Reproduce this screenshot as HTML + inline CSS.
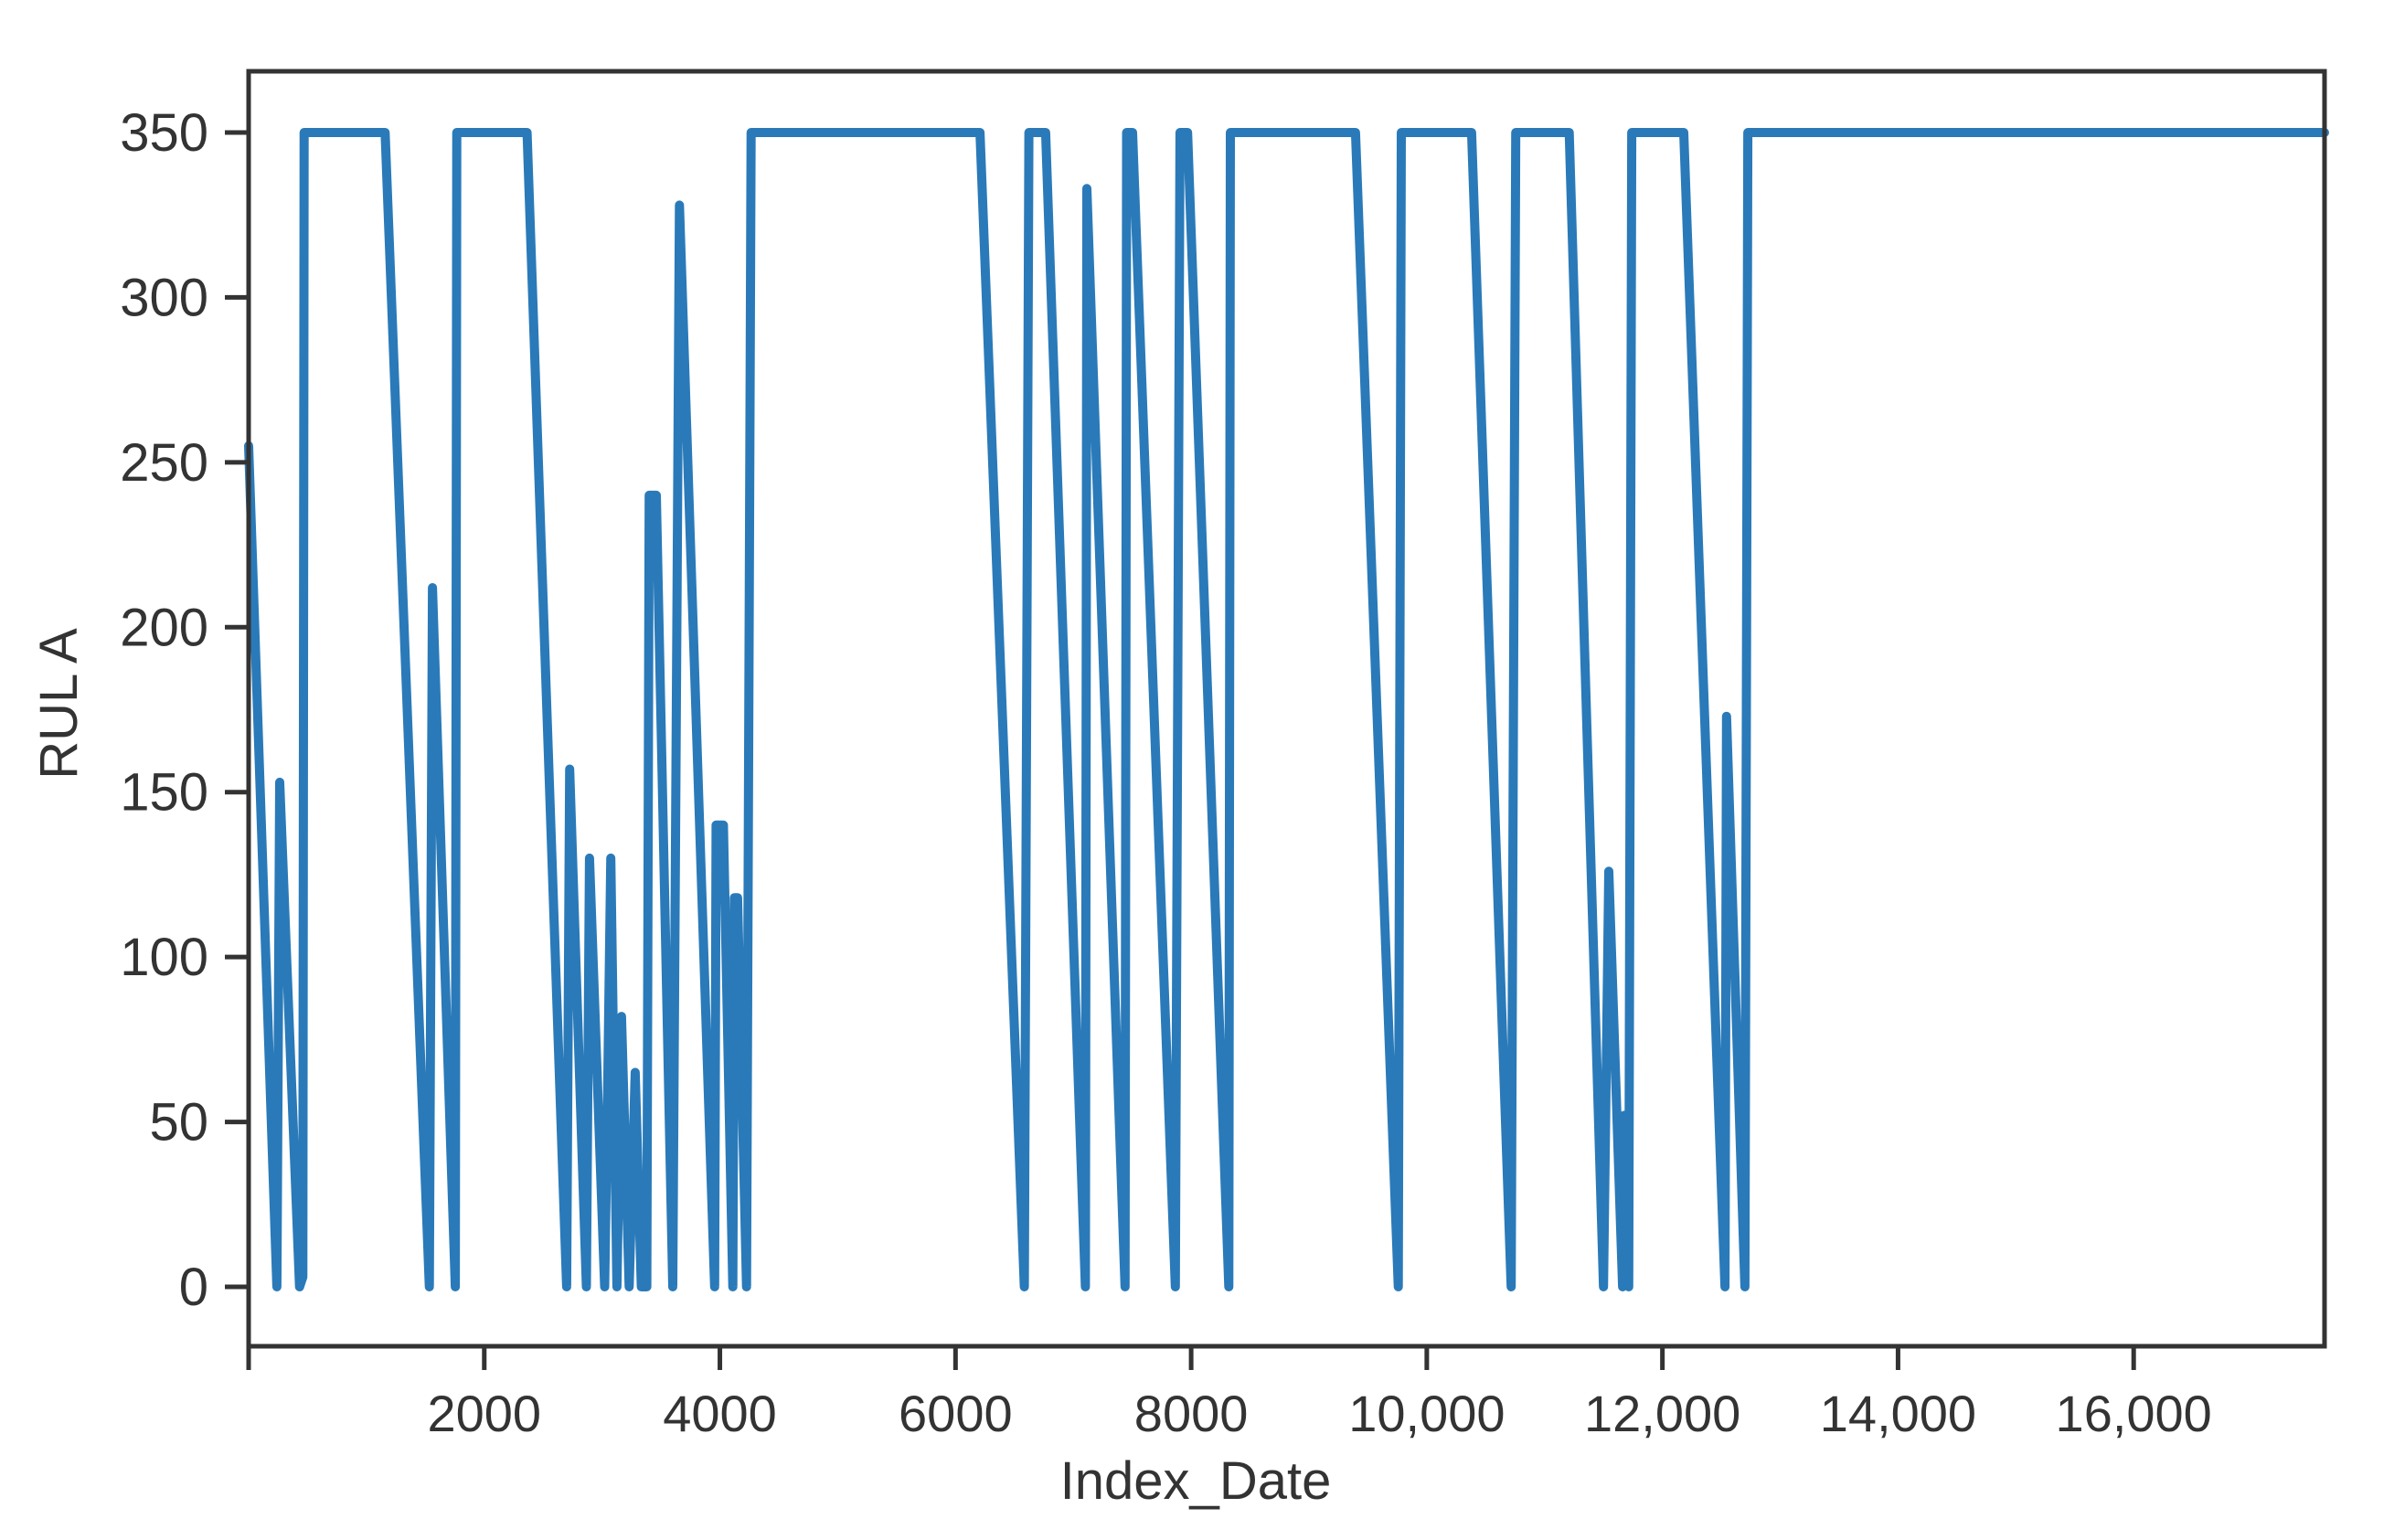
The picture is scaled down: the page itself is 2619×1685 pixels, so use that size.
<!DOCTYPE html>
<html><head><meta charset="utf-8"><style>
html,body{margin:0;padding:0;background:#fff;}
svg{display:block;}
text{font-family:"Liberation Sans",sans-serif;fill:#333;}
</style></head><body>
<svg id="chart" width="2619" height="1685">
<g id="plot"></g>
<g id="axes"></g>
</svg>
<script>
const xTicks = [2000, 4000, 6000, 8000, 10000, 12000, 14000, 16000];
const xTickLabels = ["2000", "4000", "6000", "8000", "10,000", "12,000", "14,000", "16,000"];
const yTicks = [0, 50, 100, 150, 200, 250, 300, 350];
const seriesX = [0,240,264,432,460,471,1158,1534,1560,1754,1767,2363,2699,2725,2867,2893,3022,3048,3074,3126,3165,3230,3281,3333,3380,3400,3460,3600,3657,3955,3968,4030,4110,4123,4150,4226,4265,6208,6584,6623,6765,7102,7115,7439,7452,7503,7866,7905,7970,8320,8333,9395,9758,9784,10380,10716,10755,11209,11500,11545,11662,11675,11714,11740,12181,12531,12544,12700,12725,17620];
const seriesY = [255,0,153,0,3,350,350,0,212,0,350,350,0,157,0,130,0,60,130,0,82,0,65,0,0,240,240,0,328,0,140,140,0,118,118,0,350,350,0,350,350,0,333,0,350,350,0,350,350,0,350,350,0,350,350,0,350,350,0,126,0,52,0,350,350,0,173,0,350,350];

const L=272, R=2543, T=78, B=1473;
const X0=0, X1=17620;
const y0px=1408, y350px=145;
const sx = v => L + (v - X0) / (X1 - X0) * (R - L);
const sy = v => y0px + (y350px - y0px) * v / 350;
const NS='http://www.w3.org/2000/svg';
const plot=document.getElementById('plot');
const axes=document.getElementById('axes');

const path=document.createElementNS(NS,'path');
let d='';
for(let i=0;i<seriesX.length;i++){d+=(i?'L':'M')+sx(seriesX[i]).toFixed(1)+' '+sy(seriesY[i]).toFixed(1);}
path.setAttribute('d',d);
path.setAttribute('fill','none');
path.setAttribute('stroke','#2a7ab9');
path.setAttribute('stroke-width','10');
path.setAttribute('stroke-linejoin','round');
path.setAttribute('stroke-linecap','round');


plot.appendChild(path);

const frame=document.createElementNS(NS,'rect');
frame.setAttribute('x',L);frame.setAttribute('y',T);
frame.setAttribute('width',R-L);frame.setAttribute('height',B-T);
frame.setAttribute('fill','none');frame.setAttribute('stroke','#333');frame.setAttribute('stroke-width','5');


axes.appendChild(frame);

const xl=document.createElementNS(NS,'line');
xl.setAttribute('x1',L);xl.setAttribute('x2',L);xl.setAttribute('y1',B);xl.setAttribute('y2',B+26);
xl.setAttribute('stroke','#333');xl.setAttribute('stroke-width','5');


axes.appendChild(xl);

xTicks.forEach((v,i)=>{
  const t=document.createElementNS(NS,'line');
  t.setAttribute('x1',sx(v));t.setAttribute('x2',sx(v));t.setAttribute('y1',B);t.setAttribute('y2',B+26);
  t.setAttribute('stroke','#333');t.setAttribute('stroke-width','5');
  
  
  axes.appendChild(t);
  const tx=document.createElementNS(NS,'text');
  tx.setAttribute('x',sx(v));tx.setAttribute('y',1566);
  tx.setAttribute('text-anchor','middle');tx.setAttribute('font-size','56');
  tx.textContent=xTickLabels[i];
  
  
  axes.appendChild(tx);
});
yTicks.forEach(v=>{
  const t=document.createElementNS(NS,'line');
  t.setAttribute('x1',L-26);t.setAttribute('x2',L);t.setAttribute('y1',sy(v));t.setAttribute('y2',sy(v));
  t.setAttribute('stroke','#333');t.setAttribute('stroke-width','5');
  
  
  axes.appendChild(t);
  const tx=document.createElementNS(NS,'text');
  tx.setAttribute('x',228);tx.setAttribute('y',sy(v)+20);
  tx.setAttribute('text-anchor','end');tx.setAttribute('font-size','58');
  tx.textContent=String(v);
  
  
  axes.appendChild(tx);
});
const xt=document.createElementNS(NS,'text');
xt.setAttribute('x',1308);xt.setAttribute('y',1640);xt.setAttribute('text-anchor','middle');xt.setAttribute('font-size','58');
xt.textContent='Index_Date';


axes.appendChild(xt);
const yt=document.createElementNS(NS,'text');
yt.setAttribute('transform','translate(84,770) rotate(-90)');yt.setAttribute('text-anchor','middle');yt.setAttribute('font-size','58');
yt.textContent='RUL A';


axes.appendChild(yt);
</script>
</body></html>
